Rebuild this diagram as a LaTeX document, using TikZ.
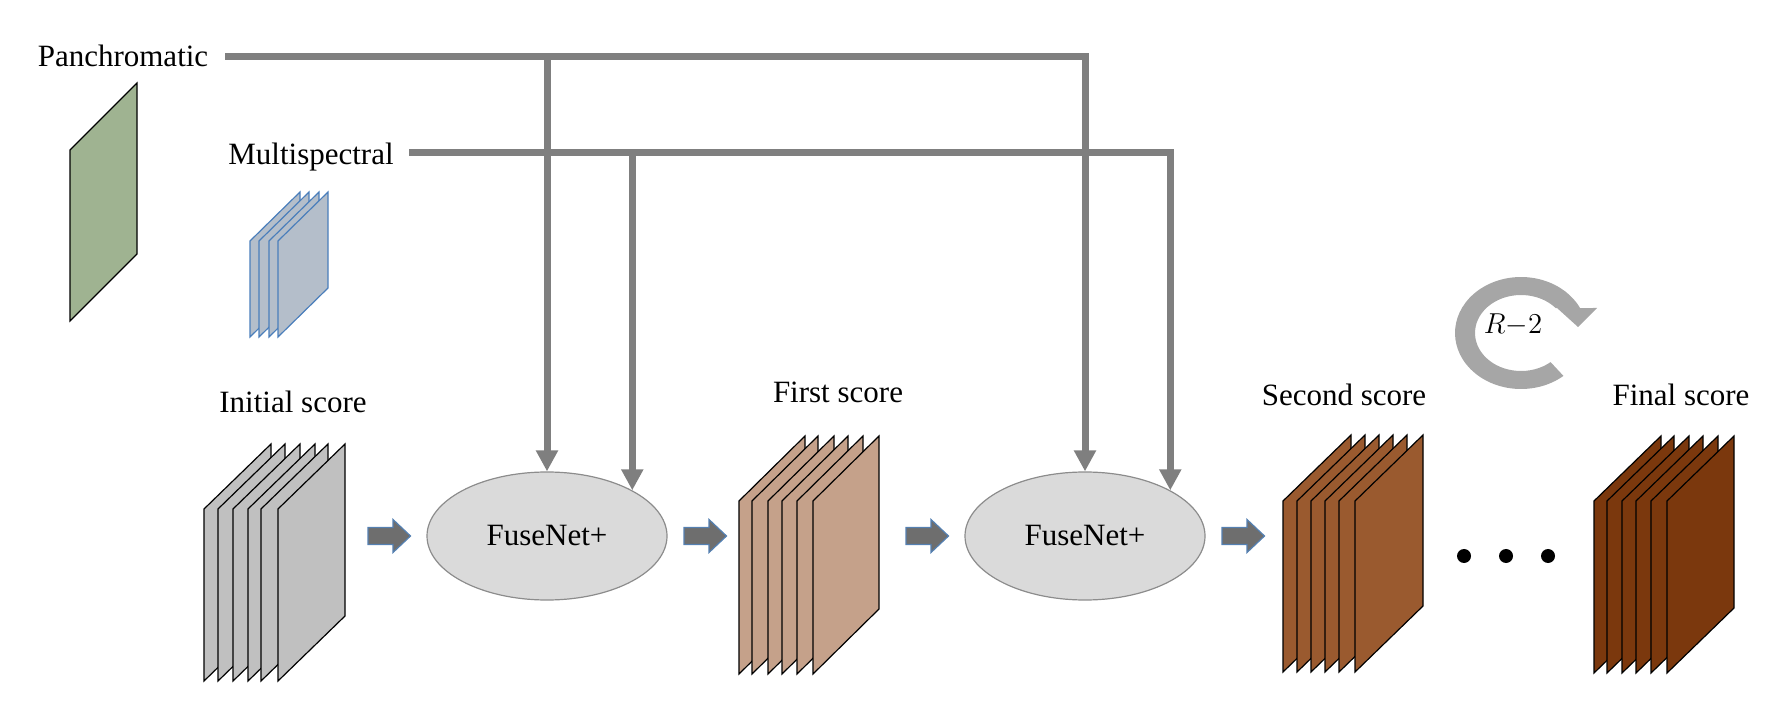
\documentclass[tikz,border=0pt]{standalone}
\usepackage{fontspec}
\setmainfont{Liberation Serif}
\usetikzlibrary{arrows.meta,shapes.geometric,calc}
\definecolor{conngray}{RGB}{127,127,127}
\definecolor{panfill}{RGB}{159,179,145}
\definecolor{msfill}{RGB}{180,190,202}
\definecolor{msedge}{RGB}{74,126,187}
\definecolor{initfill}{RGB}{192,192,192}
\definecolor{firstfill}{RGB}{197,161,138}
\definecolor{secondfill}{RGB}{154,90,47}
\definecolor{finalfill}{RGB}{123,56,13}
\definecolor{ellfill}{RGB}{218,218,218}
\definecolor{elledge}{RGB}{140,140,140}
\definecolor{barfill}{RGB}{110,110,110}
\definecolor{baredge}{RGB}{84,128,178}
\definecolor{loopgray}{RGB}{166,166,166}
\newcommand\myplane[7]{%
  \filldraw[fill=#6,draw=#7,line width=0.6pt] (#1,-#2) -- ++(#3,#4) -- ++(0,-#5) -- ++(-#3,-#4) -- cycle;}
\newcommand\blockarrow[1]{%
  \filldraw[barrow] (#1) ++(0,8.5) -- ++(25,0) -- ++(0,8) -- ++(17.5,-16.5) -- ++(-17.5,-16.5) -- ++(0,8) -- ++(-25,0) -- cycle;}
\begin{document}
\begin{tikzpicture}[x=0.5pt,y=0.5pt,
  lbl/.style={font=\fontsize{15.5}{18}\selectfont, inner sep=0pt},
  fuse/.style={ellipse, draw=elledge, fill=ellfill, line width=0.6pt, minimum width=120pt, minimum height=64pt, inner sep=0pt, font=\fontsize{15.5}{18}\selectfont},
  conn/.style={draw=conngray, line width=3.5pt, -{Triangle[length=10.5pt,width=10.5pt]}},
  barrow/.style={draw=baredge, fill=barfill, line width=0.6pt, line join=miter}]
\useasboundingbox (0,0) rectangle (1782,-726);

% labels
\node[lbl, anchor=base] (pan) at (123,-67) {Panchromatic};
\node[lbl, anchor=base] (ms) at (311,-165) {Multispectral};
\node[lbl, anchor=base] (initlbl) at (293,-413) {Initial score};
\node[lbl, anchor=base] (firstlbl) at (838,-403) {First score};
\node[lbl, anchor=base] (secondlbl) at (1344,-406) {Second score};
\node[lbl, anchor=base] (finallbl) at (1681,-406) {Final score};

% panchromatic plane
\myplane{70}{150}{67}{67}{171}{panfill}{black}
% multispectral stack
\foreach \x in {250,259,269,278} {\myplane{\x}{241}{50}{49}{96}{msfill}{msedge}}
% initial score stack
\foreach \x in {204,218,233,248,261,278} {\myplane{\x}{509}{67}{65}{172}{initfill}{black}}
% first score stack
\foreach \x in {739,752,768,782,797,813} {\myplane{\x}{501}{66}{65}{173}{firstfill}{black}}
% second score stack
\foreach \x in {1283,1297,1311,1325,1339,1355} {\myplane{\x}{501}{68}{66}{171}{secondfill}{black}}
% final score stack
\foreach \x in {1594,1607,1622,1636,1651,1667} {\myplane{\x}{501}{67}{65}{172}{finalfill}{black}}

% FuseNet+ nodes
\node[fuse] (fuse1) at (547,-536) {FuseNet+};
\node[fuse] (fuse2) at (1085,-536) {FuseNet+};

% block arrows
\coordinate (ba1) at (368,-536);
\coordinate (ba2) at (684,-536);
\coordinate (ba3) at (906,-536);
\coordinate (ba4) at (1222,-536);
\blockarrow{ba1}
\blockarrow{ba2}
\blockarrow{ba3}
\blockarrow{ba4}

% connectors
\coordinate (panstart) at (225,-56.7);
\coordinate (msstart) at (409,-153);
\draw[conn] (panstart) -| (fuse2.north);
\draw[conn] (panstart -| fuse1.north) -- (fuse1.north);
\draw[conn] (msstart) -| (fuse2.north east);
\draw[conn] (msstart -| fuse1.north east) -- (fuse1.north east);

% dots
\foreach \x in {1464,1506,1548} {\fill (\x,-556) circle[radius=3.5pt];}

% loop arrow
\fill[loopgray] ([shift={(1521,-333)}]-50:33pt and 28pt)
  arc[start angle=-50, end angle=-333.5, x radius=33pt, y radius=28pt]
  -- (1597,-308) -- (1578,-327) -- (1557,-308)
  -- ([shift={(1521,-333)}]41.1:23pt and 19pt)
  arc[start angle=41.1, end angle=310, x radius=23pt, y radius=19pt] -- cycle;
\node[font=\fontsize{15}{17}\selectfont, inner sep=0pt] (rlabel) at (1513,-325) {$R{-}2$};
\end{tikzpicture}
\end{document}
